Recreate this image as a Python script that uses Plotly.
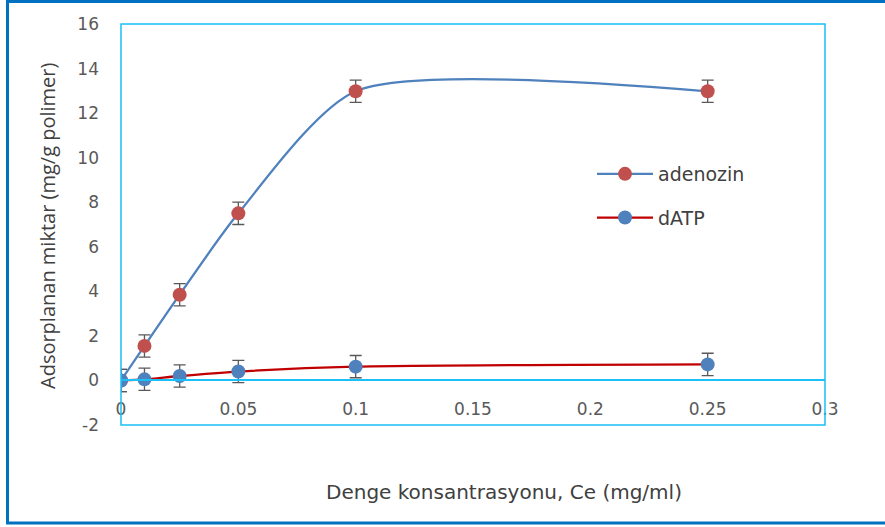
import plotly.graph_objects as go

# Data
ce = [0, 0.01, 0.025, 0.05, 0.1, 0.25]
adenozin = [0, 1.55, 3.85, 7.5, 12.98, 12.98]
adenozin_err = [0.5, 0.5, 0.5, 0.5, 0.5, 0.5]
datp = [0, 0.05, 0.2, 0.4, 0.62, 0.72]
datp_err = [0.5, 0.5, 0.5, 0.5, 0.5, 0.5]

x_ticks = [0, 0.05, 0.1, 0.15, 0.2, 0.25, 0.3]
x_ticktext = ["0", "0.05", "0.1", "0.15", "0.2", "0.25", "0.3"]
y_ticks = [-2, 0, 2, 4, 6, 8, 10, 12, 14, 16]
y_ticktext = ["-2", "0", "2", "4", "6", "8", "10", "12", "14", "16"]

W, H = 885, 527
L, R, T, B = 121, 825, 24, 425
pw, ph = R - L, B - T

def px(xp):
    return (xp - L) / pw

def py(yp):
    return (B - yp) / ph

ymin, ymax = -2, 16

fig = go.Figure()
fig.add_trace(go.Scatter(
    x=ce, y=adenozin, name="adenozin", mode="lines+markers", legendgroup="a",
    line=dict(color="#4F81BD", width=2.3, shape="spline", smoothing=0.7),
    marker=dict(color="#C0504D", size=14),
    error_y=dict(type="data", array=adenozin_err, color="#595959", thickness=1.3, width=6),
))
fig.add_trace(go.Scatter(
    x=ce, y=datp, name="dATP", mode="lines+markers", legendgroup="b",
    line=dict(color="#C00000", width=2.3, shape="spline", smoothing=0.7),
    marker=dict(color="#4F81BD", size=14),
    error_y=dict(type="data", array=datp_err, color="#595959", thickness=1.3, width=6),
))

axis_col = "#1AC0F8"
tick_font = dict(family="DejaVu Sans", size=17, color="#595959")

fig.update_layout(
    width=W, height=H,
    margin=dict(l=L, r=W - R, t=T, b=H - B),
    paper_bgcolor="white", plot_bgcolor="white",
    showlegend=True,
    legend=dict(
        x=px(592), y=py(155), xanchor="left", yanchor="top",
        font=dict(family="DejaVu Sans", size=19, color="#404040"),
        bgcolor="rgba(0,0,0,0)", tracegroupgap=16, traceorder="grouped",
        itemwidth=56,
    ),
    xaxis=dict(
        range=[0, 0.3], tickvals=x_ticks, ticktext=x_ticktext,
        showgrid=False, zeroline=False, showline=True, linecolor=axis_col, linewidth=1.5,
        anchor="free", position=(0 - ymin) / (ymax - ymin),
        ticks="", ticklabelstandoff=13, tickfont=tick_font,
    ),
    yaxis=dict(
        range=[ymin, ymax], tickvals=y_ticks, ticktext=y_ticktext,
        showgrid=False, zeroline=False, showline=False,
        ticks="", ticklabelstandoff=21, tickfont=tick_font,
    ),
    shapes=[
        dict(type="rect", xref="paper", yref="paper", x0=0, x1=1, y0=0, y1=1,
             line=dict(color=axis_col, width=1.5), layer="above"),
        dict(type="rect", xref="paper", yref="paper",
             x0=px(7.5), x1=px(895), y0=py(523), y1=py(1.5),
             line=dict(color="#0070C0", width=3)),
    ],
    annotations=[
        dict(text="Denge konsantrasyonu, Ce (mg/ml)", xref="paper", yref="paper",
             x=px(504), y=py(492), showarrow=False, xanchor="center", yanchor="middle",
             font=dict(family="DejaVu Sans", size=20, color="#404040")),
        dict(text="Adsorplanan miktar (mg/g polimer)", xref="paper", yref="paper",
             x=px(48), y=py(226), showarrow=False, textangle=-90,
             xanchor="center", yanchor="middle",
             font=dict(family="Open Sans", size=20, color="#404040")),
    ],
)

fig.write_html("out.html", post_script="document.body.style.margin='0';",
               config={"displayModeBar": False})
